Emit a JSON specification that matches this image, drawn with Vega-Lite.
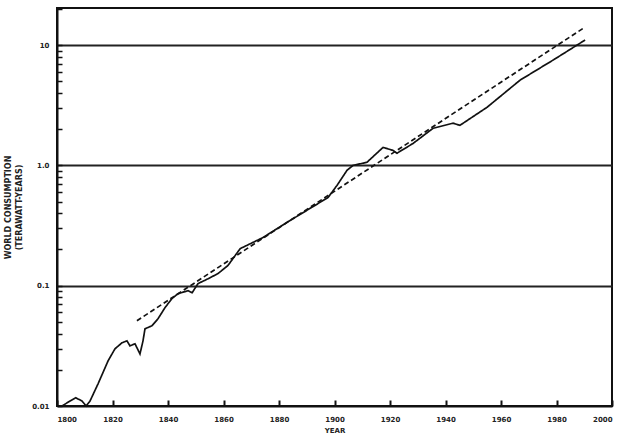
{
  "$schema": "https://vega.github.io/schema/vega-lite/v6.json",
  "description": "Growth on a log scale: observed series (solid) and exponential trend (dashed)",
  "width": 555,
  "height": 398,
  "autosize": "none",
  "padding": {"left": 57, "top": 8, "right": 6, "bottom": 36},
  "data": {
    "values": [
      {"year": 1801.8, "value": 0.010, "series": "observed"},
      {"year": 1804.7, "value": 0.011, "series": "observed"},
      {"year": 1806.8, "value": 0.0117, "series": "observed"},
      {"year": 1809.0, "value": 0.011, "series": "observed"},
      {"year": 1810.5, "value": 0.010, "series": "observed"},
      {"year": 1811.9, "value": 0.011, "series": "observed"},
      {"year": 1814.8, "value": 0.0153, "series": "observed"},
      {"year": 1818.4, "value": 0.0237, "series": "observed"},
      {"year": 1820.9, "value": 0.0299, "series": "observed"},
      {"year": 1823.4, "value": 0.0335, "series": "observed"},
      {"year": 1825.2, "value": 0.0348, "series": "observed"},
      {"year": 1826.3, "value": 0.0316, "series": "observed"},
      {"year": 1828.1, "value": 0.0329, "series": "observed"},
      {"year": 1829.9, "value": 0.0271, "series": "observed"},
      {"year": 1831.0, "value": 0.0348, "series": "observed"},
      {"year": 1831.7, "value": 0.0438, "series": "observed"},
      {"year": 1834.2, "value": 0.0464, "series": "observed"},
      {"year": 1836.4, "value": 0.0531, "series": "observed"},
      {"year": 1838.9, "value": 0.0656, "series": "observed"},
      {"year": 1841.4, "value": 0.078, "series": "observed"},
      {"year": 1843.6, "value": 0.0858, "series": "observed"},
      {"year": 1847.2, "value": 0.0908, "series": "observed"},
      {"year": 1848.7, "value": 0.0874, "series": "observed"},
      {"year": 1850.8, "value": 0.104, "series": "observed"},
      {"year": 1854.4, "value": 0.114, "series": "observed"},
      {"year": 1858.0, "value": 0.126, "series": "observed"},
      {"year": 1861.6, "value": 0.147, "series": "observed"},
      {"year": 1866.0, "value": 0.203, "series": "observed"},
      {"year": 1874.2, "value": 0.251, "series": "observed"},
      {"year": 1884.0, "value": 0.348, "series": "observed"},
      {"year": 1897.7, "value": 0.541, "series": "observed"},
      {"year": 1900.9, "value": 0.681, "series": "observed"},
      {"year": 1904.5, "value": 0.909, "series": "observed"},
      {"year": 1906.7, "value": 1.0, "series": "observed"},
      {"year": 1911.7, "value": 1.06, "series": "observed"},
      {"year": 1917.5, "value": 1.41, "series": "observed"},
      {"year": 1921.1, "value": 1.33, "series": "observed"},
      {"year": 1922.5, "value": 1.26, "series": "observed"},
      {"year": 1928.3, "value": 1.52, "series": "observed"},
      {"year": 1935.5, "value": 2.03, "series": "observed"},
      {"year": 1942.7, "value": 2.24, "series": "observed"},
      {"year": 1945.2, "value": 2.15, "series": "observed"},
      {"year": 1955.0, "value": 3.04, "series": "observed"},
      {"year": 1966.9, "value": 5.11, "series": "observed"},
      {"year": 1978.8, "value": 7.5, "series": "observed"},
      {"year": 1990.3, "value": 11.0, "series": "observed"},
      {"year": 1828.8, "value": 0.0511, "series": "trend"},
      {"year": 1990.3, "value": 14.1, "series": "trend"}
    ]
  },
  "mark": {"type": "line", "color": "#111", "strokeWidth": 1.7},
  "encoding": {
    "x": {
      "field": "year",
      "type": "quantitative",
      "scale": {"domain": [1800, 2000], "nice": false},
      "axis": {
        "values": [1800, 1820, 1840, 1860, 1880, 1900, 1920, 1940, 1960, 1980, 2000],
        "format": "d",
        "title": "YEAR",
        "tickSize": -6,
        "tickWidth": 2,
        "tickColor": "#111",
        "labelPadding": 15,
        "titlePadding": 4,
        "domainColor": "#111",
        "domainWidth": 2,
        "grid": false,
        "labelFont": "DejaVu Sans",
        "labelFontSize": 7,
        "labelFontWeight": "bold",
        "labelColor": "#222",
        "titleFont": "DejaVu Sans",
        "titleFontSize": 7,
        "titleFontWeight": "bold",
        "titleColor": "#222"
      }
    },
    "y": {
      "field": "value",
      "type": "quantitative",
      "scale": {"type": "log", "domain": [0.01, 20.3], "nice": false},
      "axis": {
        "values": [0.01, 0.02, 0.03, 0.04, 0.05, 0.06, 0.07, 0.08, 0.09, 0.1, 0.2, 0.3, 0.4, 0.5, 0.6, 0.7, 0.8, 0.9, 1, 2, 3, 4, 5, 6, 7, 8, 9, 10, 20],
        "labelExpr": "datum.value == 10 ? '10' : datum.value == 1 ? '1.0' : datum.value == 0.1 ? '0.1' : datum.value == 0.01 ? '0.01' : ''",
        "tickSize": -5,
        "tickWidth": 1.5,
        "tickColor": "#111",
        "labelPadding": 13,
        "domainColor": "#111",
        "domainWidth": 2,
        "grid": true,
        "gridColor": "#222",
        "gridWidth": 2,
        "gridOpacity": {
          "condition": {"test": "datum.value == 10 || datum.value == 1 || datum.value == 0.1", "value": 1},
          "value": 0
        },
        "title": ["WORLD CONSUMPTION", "(TERAWATT-YEARS)"],
        "labelFont": "DejaVu Sans",
        "labelFontSize": 7,
        "labelFontWeight": "bold",
        "labelColor": "#222",
        "titleFont": "DejaVu Sans",
        "titleFontSize": 8,
        "titleFontWeight": "bold",
        "titleColor": "#222",
        "titleLineHeight": 11,
        "titlePadding": 8
      }
    },
    "strokeDash": {
      "field": "series",
      "type": "nominal",
      "scale": {"domain": ["observed", "trend"], "range": [[1, 0], [5, 3]]},
      "legend": null
    }
  },
  "config": {
    "view": {"stroke": "#111", "strokeWidth": 2}
  }
}
